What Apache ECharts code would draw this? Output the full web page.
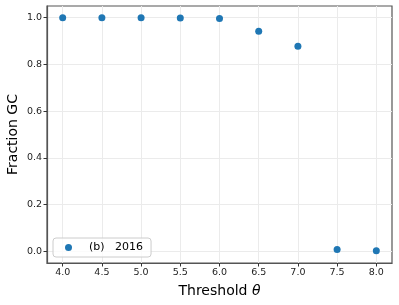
<!DOCTYPE html>
<html><head><meta charset="utf-8">
<script src="https://cdn.jsdelivr.net/npm/echarts@6/dist/echarts.min.js"></script>
<style>html,body{margin:0;padding:0;background:#fff}#c{width:399px;height:305px}</style>
</head><body><div id="c"></div>
<script>
const thresholds = [4.0, 4.5, 5.0, 5.5, 6.0, 6.5, 7.0, 7.5, 8.0];
const fractionGC = [1.0, 1.0, 1.0, 0.999, 0.997, 0.942, 0.878, 0.008, 0.002];
const xTicks = [4.0, 4.5, 5.0, 5.5, 6.0, 6.5, 7.0, 7.5, 8.0];
const yTicks = [0.0, 0.2, 0.4, 0.6, 0.8, 1.0];
const seriesName = '(b)   2016';

const chart = echarts.init(document.getElementById('c'), null, {renderer: 'canvas'});
const font = 'DejaVu Sans';
chart.setOption({
  animation: false,
  grid: {left: 47, top: 6, right: 7, bottom: 42, outerBoundsMode: 'none', containLabel: false,
         show: true, borderColor: '#555', borderWidth: 1.2, backgroundColor: 'transparent'},
  xAxis: {
    type: 'value', min: 3.8, max: 8.2,
    name: 'Threshold {i|θ}', nameLocation: 'middle', nameGap: 21, nameMoveOverlap: false,
    nameTextStyle: {fontFamily: font, fontSize: 14, color: '#000', rich: {i: {fontFamily: font, fontStyle: 'italic', fontSize: 14, color: '#000'}}},
    axisLine: {show: true, onZero: false, lineStyle: {color: '#555', width: 1.2}},
    axisTick: {show: true, length: 3.5, lineStyle: {color: '#333'}, customValues: xTicks},
    axisLabel: {customValues: xTicks, formatter: v => v.toFixed(1), fontFamily: font, fontSize: 9.5, color: '#222', margin: 5},
    splitLine: {show: true, lineStyle: {color: '#ebebeb', width: 1}}
  },
  yAxis: {
    type: 'value', min: -0.05, max: 1.05,
    name: 'Fraction GC', nameLocation: 'middle', nameGap: 27, nameMoveOverlap: false,
    nameTextStyle: {fontFamily: font, fontSize: 14, color: '#000'},
    axisLine: {show: true, onZero: false, lineStyle: {color: '#555', width: 1.2}},
    axisTick: {show: true, length: 3.5, lineStyle: {color: '#333'}, customValues: yTicks},
    axisLabel: {customValues: yTicks, formatter: v => v.toFixed(1), fontFamily: font, fontSize: 9.5, color: '#222', margin: 5},
    splitLine: {show: true, lineStyle: {color: '#ebebeb', width: 1}}
  },
  legend: {
    left: 53, top: 238, orient: 'vertical',
    data: [{name: seriesName, icon: 'circle'}],
    itemWidth: 7, itemHeight: 7, itemGap: 0,
    padding: [4, 8, 4, 12],
    borderColor: '#ccc', borderWidth: 1, borderRadius: 3, backgroundColor: 'rgba(255,255,255,0.8)',
    textStyle: {fontFamily: font, fontSize: 11, color: '#000', padding: [0, 0, 0, 12]}
  },
  series: [{
    name: seriesName, type: 'scatter', symbol: 'circle', symbolSize: 7,
    itemStyle: {color: '#1f77b4', opacity: 1},
    data: thresholds.map((t, i) => [t, fractionGC[i]])
  }]
});
</script></body></html>
